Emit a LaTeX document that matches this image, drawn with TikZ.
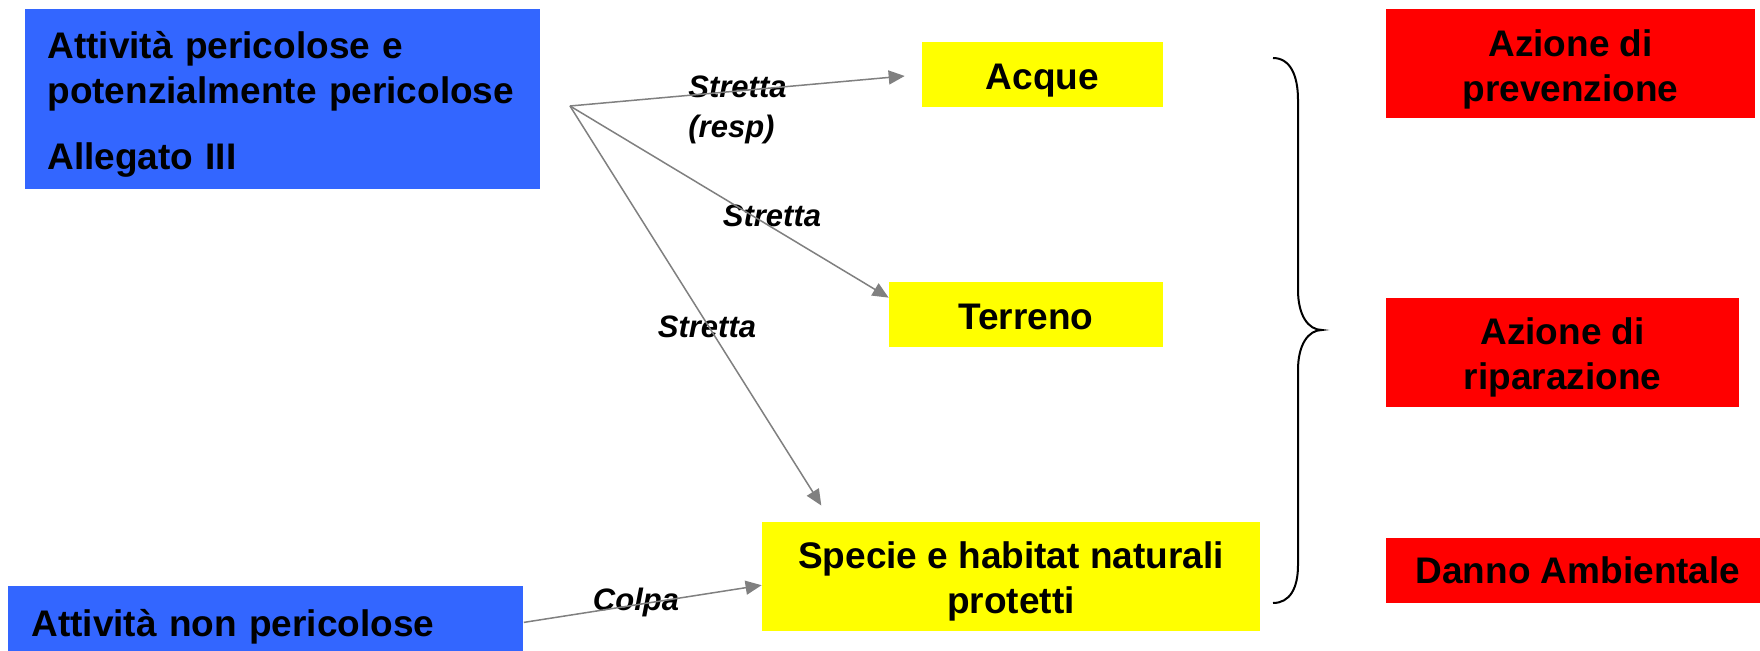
\documentclass[tikz,border=0pt]{standalone}
\usepackage{fontspec}
\setmainfont{Liberation Sans}
\usetikzlibrary{arrows.meta}
\definecolor{bluebox}{RGB}{51,102,255}
\definecolor{redbox}{RGB}{255,0,0}
\definecolor{yellowbox}{RGB}{255,255,0}
\definecolor{graya}{RGB}{128,128,128}
\newcommand{\tallrule}[1]{\rule{0pt}{#1}}
\begin{document}
\begin{tikzpicture}[x=0.5pt,y=-0.5pt,
  box/.style={inner sep=0pt, font=\fontsize{18.5}{22.5}\selectfont\bfseries, align=center},
  lab/.style={inner sep=0pt, font=\fontsize{15.5}{20}\selectfont\bfseries\itshape},
  conn/.style={draw=graya, line width=0.75pt, -{Triangle[length=8pt,width=7pt]}},
  bracestyle/.style={draw=black, line width=1pt}
]
\fill[white] (0,0) rectangle (1760,651);
\useasboundingbox (0,0) rectangle (1760,651);

% left boxes
\node[box, fill=bluebox, anchor=north west, minimum width=257.5pt, minimum height=90pt,
      inner xsep=11pt, text width=235.5pt, align=left] (B1) at (25,9)
      {\tallrule{18.5pt}Attività pericolose e\\potenzialmente pericolose\\[10.5pt]Allegato III};
\node[box, fill=bluebox, anchor=north west, minimum width=257.5pt, minimum height=40pt,
      inner xsep=11.5pt, text width=234.5pt, align=left] (B2) at (8,586)
      {Attività non pericolose};

% yellow boxes
\node[box, fill=yellowbox, minimum width=120.5pt, minimum height=32.5pt] (Acque) at (1042.5,74.5) {\tallrule{19pt}Acque};
\node[box, fill=yellowbox, minimum width=137pt, minimum height=32.5pt] (Terreno) at (1026,314.5) {\tallrule{15pt}Terreno};
\node[box, fill=yellowbox, minimum width=249pt, minimum height=54.5pt] (Specie) at (1011,576.5)
      {\tallrule{18.5pt}Specie e habitat naturali\\protetti};

% red boxes
\node[box, fill=redbox, minimum width=184.5pt, minimum height=54.5pt] (R1) at (1570.5,63.5) {\tallrule{19pt}Azione di\\prevenzione};
\node[box, fill=redbox, minimum width=176.5pt, minimum height=54.5pt] (R2) at (1562.5,352.5) {\tallrule{18pt}Azione di\\riparazione};
\node[box, fill=redbox, minimum width=187pt, minimum height=32.5pt] (R3) at (1573,570.5) {\hspace*{5pt}Danno Ambientale};

% labels
\node[lab, anchor=north west, align=left] (L1) at (688,75) {Stretta\\(resp)};
\node[lab, anchor=base] (L2) at (772,227) {Stretta};
\node[lab, anchor=base] (L3) at (707,338) {Stretta};
\node[lab, anchor=base] (L4) at (636,610) {Colpa};

% connectors
\coordinate (hub) at (570,106);
\draw[conn, shorten >=8.5pt] (hub) -- (Acque.west);
\draw[conn] (hub) -- (Terreno.173);
\draw[conn, shorten >=9.5pt] (hub) -- (Specie.163);
\draw[conn] ([yshift=2pt]B2.east) -- (Specie.182);

% brace
\draw[bracestyle] (1273,58) .. controls (1290,58) and (1298,75) .. (1298,100)
  -- (1298,290) .. controls (1298,315) and (1308,330) .. (1322,330)
  .. controls (1308,330) and (1298,345) .. (1298,370)
  -- (1298,565) .. controls (1298,588) and (1290,603) .. (1273,603);
\end{tikzpicture}
\end{document}
